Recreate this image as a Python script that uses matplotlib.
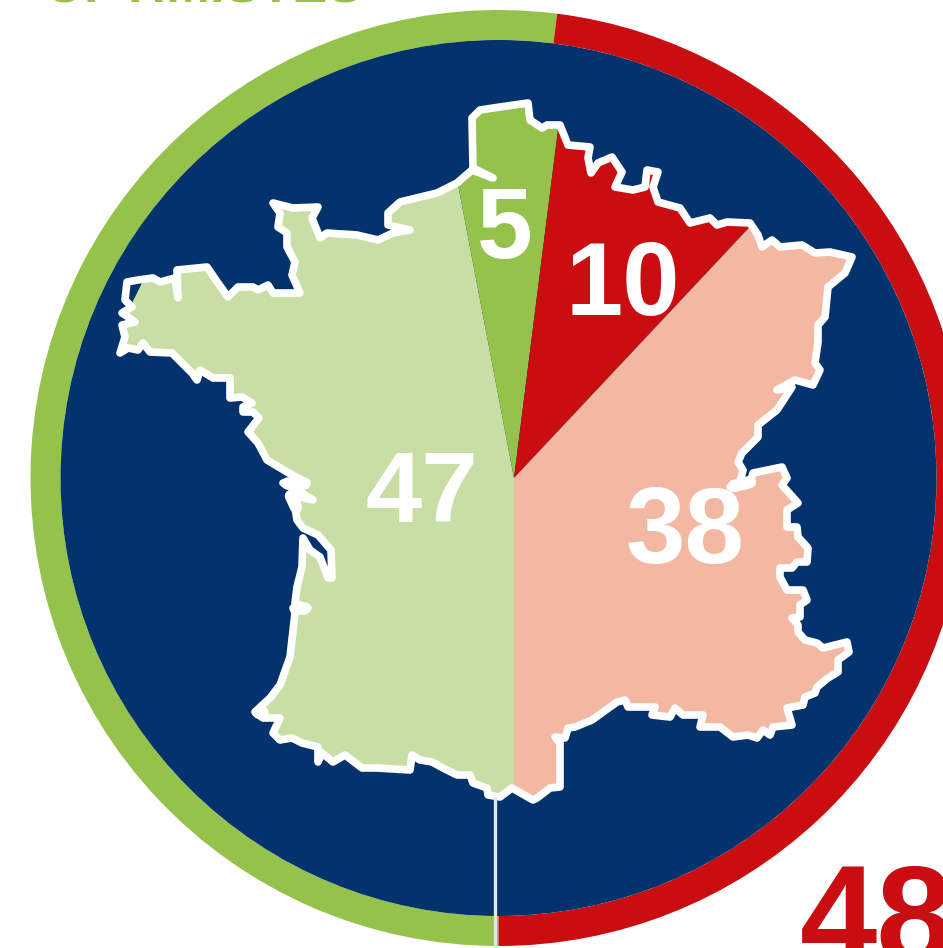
import matplotlib.pyplot as plt
from matplotlib.patches import Circle, Polygon
from matplotlib.path import Path

plt.rcParams['font.family'] = ['Liberation Sans', 'DejaVu Sans']

# DATA
ring_labels = ["OPTIMISTES", "48"]
ring_values = [52, 48]
region_values = [47, 5, 10, 38]
region_labels = ["47", "5", "10", "38"]

# outline of France (pixels, y going down)
outline_x = [472, 480, 500, 528, 530, 542, 547, 560, 568, 590, 588, 591, 598, 612, 622, 615, 633, 645, 647, 658,
             653, 658, 680, 690, 710, 717, 727, 750, 758, 762, 772, 780, 802, 815, 830, 852, 845, 828, 825, 818,
             818, 815, 820, 813, 795, 777, 792, 777, 758, 758, 742, 738, 743, 740, 730, 750, 753, 782, 787, 782,
             798, 787, 787, 797, 798, 808, 807, 797, 792, 780, 780, 787, 803, 807, 800, 800, 792, 798, 798, 805,
             817, 823, 847, 849, 838, 838, 828, 817, 815, 805, 803, 787, 792, 773, 770, 763, 757, 748, 733, 720,
             700, 703, 683, 675, 670, 652, 655, 628, 625, 617, 592, 575, 568, 565, 555, 560, 560, 550, 537, 533,
             512, 500, 488, 487, 473, 470, 457, 443, 432, 420, 412, 410, 377, 362, 345, 333, 322, 318, 318, 302,
             292, 280, 273, 280, 263, 255, 270, 280, 290, 295, 293, 308, 295, 297, 302, 303, 310, 320, 328, 332,
             331, 318, 303, 297, 295, 290, 313, 300, 283, 307, 287, 267, 258, 248, 259, 253, 243, 243, 252, 242,
             230, 230, 213, 200, 197, 192, 172, 150, 143, 138, 128, 120, 125, 122, 135, 128, 122, 132, 125, 127,
             138, 153, 160, 175, 178, 177, 207, 218, 228, 238, 253, 258, 268, 273, 300, 292, 295, 287, 287, 278,
             280, 273, 293, 318, 312, 320, 327, 357, 378, 393, 410, 388, 388, 400, 437, 457, 472, 493, 473]
outline_y = [118, 110, 107, 103, 120, 128, 125, 125, 145, 147, 158, 173, 163, 157, 172, 187, 190, 187, 170, 172,
             187, 202, 208, 223, 218, 225, 222, 223, 235, 247, 240, 247, 245, 253, 252, 257, 273, 287, 317, 325,
             342, 363, 370, 385, 380, 390, 387, 410, 425, 437, 453, 462, 470, 482, 487, 483, 473, 467, 478, 485,
             503, 510, 527, 527, 537, 548, 562, 562, 568, 568, 577, 590, 590, 600, 605, 617, 618, 625, 632, 640,
             643, 648, 642, 652, 660, 672, 678, 687, 693, 697, 705, 708, 725, 727, 735, 730, 738, 735, 737, 727,
             727, 715, 715, 708, 717, 715, 707, 707, 700, 702, 720, 727, 728, 738, 737, 743, 787, 788, 798, 800,
             788, 797, 795, 788, 783, 775, 775, 768, 762, 760, 755, 770, 768, 768, 755, 762, 753, 762, 747, 743,
             738, 740, 733, 718, 718, 712, 698, 685, 657, 613, 608, 608, 603, 587, 567, 538, 550, 557, 578, 578,
             550, 535, 528, 520, 507, 495, 500, 492, 483, 483, 472, 460, 443, 432, 418, 412, 412, 407, 403, 397,
             398, 378, 378, 370, 380, 373, 353, 352, 343, 350, 348, 353, 337, 325, 322, 317, 313, 307, 300, 282,
             280, 278, 282, 278, 298, 270, 267, 283, 297, 287, 287, 290, 285, 293, 293, 275, 262, 247, 233, 227,
             213, 203, 208, 207, 218, 238, 233, 235, 240, 233, 230, 225, 213, 202, 193, 183, 170, 178, 168]

# islands and lakes that look like blobs on the outline
blob_x = [(296, 304), (287, 304), (291, 296), (734, 750), (258, 262)]
blob_y = [(608, 608), (483, 483), (496, 507), (486, 482), (712, 712)]

W, H = 943, 948
GREEN = "#94c24a"
RED = "#c90d10"
NAVY = "#04326c"
LIGHT_GREEN = "#c9dea5"
PEACH = "#f2b8a2"

fig = plt.figure(figsize=(W / 100, H / 100), dpi=100)
ax = fig.add_axes([0, 0, 1, 1])

# ring 52 / 48 starting from the bottom, clockwise
ax.pie(ring_values, center=(498.5, H - 478), radius=468, startangle=270, counterclock=False,
       colors=[GREEN, RED], wedgeprops=dict(width=30, linewidth=0))
ax.add_patch(Circle((498.5, H - 478), 438, facecolor=NAVY, edgecolor="none", zorder=2))

# pie inside the map
points = [(x, H - y) for x, y in zip(outline_x, outline_y)]
shape = Path(points + points[:1], closed=True)
wedges, _ = ax.pie(region_values, center=(514, H - 478), radius=420, startangle=270, counterclock=False,
                   colors=[LIGHT_GREEN, GREEN, RED, PEACH], wedgeprops=dict(linewidth=0, zorder=3))

ax.set_xlim(0, W)
ax.set_ylim(0, H)
ax.set_aspect("auto")
ax.axis("off")

# pie wedges come with clipping turned off
for w in wedges:
    w.set_clip_on(True)
    w.set_clip_path(shape, ax.transData)

ax.add_patch(Polygon(points, closed=True, facecolor="none", edgecolor="white", linewidth=5.5,
                     joinstyle="round", zorder=4))
for bx, by in zip(blob_x, blob_y):
    ax.plot(bx, [H - v for v in by], color="white", linewidth=9, solid_capstyle="round", zorder=4)

# thin line below the map
ax.plot([495, 495], [0, H - 797], color="#dfe6ee", linewidth=2.4, zorder=5, solid_capstyle="butt")

# numbers on the map
label_x = [422, 505, 623, 685]
label_y = [522, 258, 315, 563]
label_size = [73, 72, 74, 77]
for txt, x, y, s in zip(region_labels, label_x, label_y, label_size):
    ax.text(x, H - y, txt, color="white", fontsize=s, fontweight="bold", ha="center", va="baseline", zorder=6)

ax.text(44, H - 2, ring_labels[0], color=GREEN, fontsize=38, fontweight="bold", ha="left", va="baseline")
ax.text(800, H - 963, ring_labels[1], color=RED, fontsize=100, fontweight="bold", ha="left", va="baseline")

fig.savefig("out.png", dpi=100)
